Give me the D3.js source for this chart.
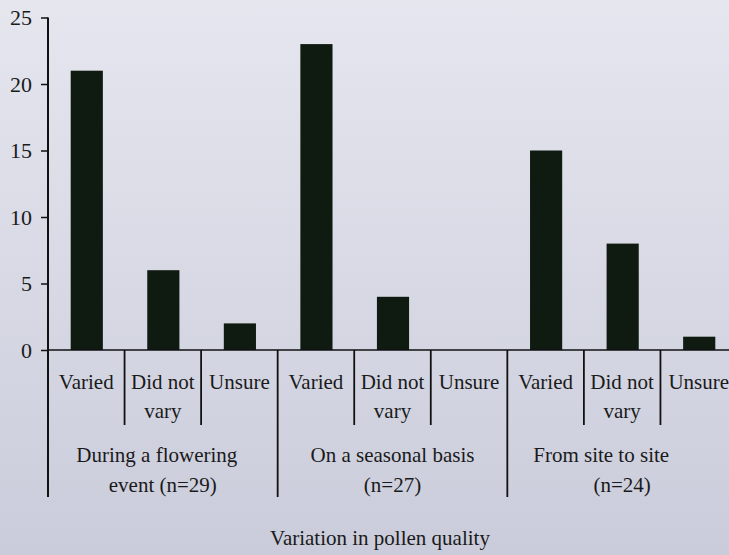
<html>
<head>
  <meta charset="utf-8" />
  <script src="https://cdnjs.cloudflare.com/ajax/libs/d3/7.8.5/d3.min.js"></script>
  <style>
    body { margin: 0; }
  </style>
</head>
<body>
  <svg></svg>
  <script>
    var groups = ["During a flowering event (n=29)", "On a seasonal basis (n=27)", "From site to site (n=24)"]
    var groupLines = [["During a flowering", "event (n=29)"], ["On a seasonal basis", "(n=27)"], ["From site to site", "(n=24)"]]
    var answers = ["Varied", "Did not vary", "Unsure"]
    var answerLines = [["Varied"], ["Did not", "vary"], ["Unsure"]]
    var counts = [[21, 6, 2], [23, 4, 0], [15, 8, 1]]
    var yTicks = [0, 5, 10, 15, 20, 25]
    var axisTitle = "Variation in pollen quality"

    var W = 729, H = 555
    var serif = "'Liberation Serif', 'DejaVu Serif', Times, serif"
    var svg = d3.select("svg").attr("width", W).attr("height", H)

    var grad = svg.append("defs").append("linearGradient")
      .attr("id", "bg").attr("x1", 0).attr("y1", 0).attr("x2", 0).attr("y2", 1)
    grad.append("stop").attr("offset", "0%").attr("stop-color", "#e5e6ee")
    grad.append("stop").attr("offset", "100%").attr("stop-color", "#caccdb")
    svg.append("rect").attr("width", W).attr("height", H).attr("fill", "url(#bg)")

    // flatten groups x answers into 9 categories
    var cells = []
    groups.forEach((g, gi) => answers.forEach((a, ai) => {
      cells.push({key: gi + "-" + ai, gi: gi, ai: ai, value: counts[gi][ai]})
    }))

    var left = 48, right = 737, y0 = 350
    var xScale = d3.scaleBand().domain(cells.map(c => c.key)).range([left, right]).padding(0)
    var yScale = d3.scaleLinear().domain([0, 25]).range([y0, 17.5])
    var step = xScale.bandwidth()
    var barW = step * 0.42

    // bars
    svg.selectAll("rect.bar")
      .data(cells)
      .enter()
      .append("rect")
        .attr("class", "bar")
        .attr("x", d => xScale(d.key) + (step - barW) / 2 + 0.5)
        .attr("y", d => yScale(d.value))
        .attr("width", barW)
        .attr("height", d => y0 - yScale(d.value))
        .style("fill", "#0f1a11")

    // y axis
    var yAxis = svg.append("g")
      .attr("transform", "translate(" + left + ",0)")
      .call(d3.axisLeft(yScale).tickValues(yTicks).tickSize(7).tickPadding(9))
    yAxis.select("path.domain").remove()
    yAxis.selectAll(".tick line").attr("stroke", "#111").attr("stroke-width", 1.5)
    yAxis.attr("font-family", serif)
    yAxis.selectAll(".tick text").style("font-family", serif).style("font-size", "22px").style("fill", "#1a1a1a")
    svg.append("line").attr("x1", left).attr("x2", left).attr("y1", yScale(25)).attr("y2", 497)
      .attr("stroke", "#111").attr("stroke-width", 2)

    // x axis baseline
    svg.append("line").attr("x1", left).attr("x2", W).attr("y1", y0).attr("y2", y0)
      .attr("stroke", "#111").attr("stroke-width", 1.5)

    // separators between categories
    svg.selectAll("line.sep")
      .data(cells.slice(1))
      .enter()
      .append("line")
        .attr("class", "sep")
        .attr("x1", d => xScale(d.key))
        .attr("x2", d => xScale(d.key))
        .attr("y1", y0)
        .attr("y2", d => d.ai == 0 ? 497 : 425)
        .attr("stroke", "#111").attr("stroke-width", 1.8)

    // answer labels
    svg.selectAll("text.ans")
      .data(cells)
      .enter()
      .append("text")
        .attr("class", "ans")
        .attr("text-anchor", "middle")
        .style("font-family", serif)
        .style("font-size", "21px")
        .style("fill", "#1a1a1a")
        .each(function(d) {
          d3.select(this).selectAll("tspan")
            .data(answerLines[d.ai])
            .enter()
            .append("tspan")
              .attr("x", xScale(d.key) + step / 2)
              .attr("y", (t, i) => 389 + i * 29)
              .text(t => t)
        })

    // group labels
    svg.selectAll("text.grp")
      .data(groupLines)
      .enter()
      .append("text")
        .attr("class", "grp")
        .attr("text-anchor", "middle")
        .style("font-family", serif)
        .style("font-size", "21px")
        .style("fill", "#1a1a1a")
        .each(function(lines, gi) {
          var cx = xScale(gi + "-1") + step / 2
          d3.select(this).selectAll("tspan")
            .data(lines)
            .enter()
            .append("tspan")
              .attr("x", (t, i) => cx - (gi == 2 && i == 0 ? 21 : (gi == 0 && i == 0 ? 6 : 0)))
              .attr("y", (t, i) => 462 + i * 30)
              .text(t => t)
        })

    svg.append("text")
      .attr("x", 380).attr("y", 545)
      .attr("text-anchor", "middle")
      .style("font-family", serif)
      .style("font-size", "21px")
      .style("fill", "#1a1a1a")
      .text(axisTitle)
  </script>
</body>
</html>
